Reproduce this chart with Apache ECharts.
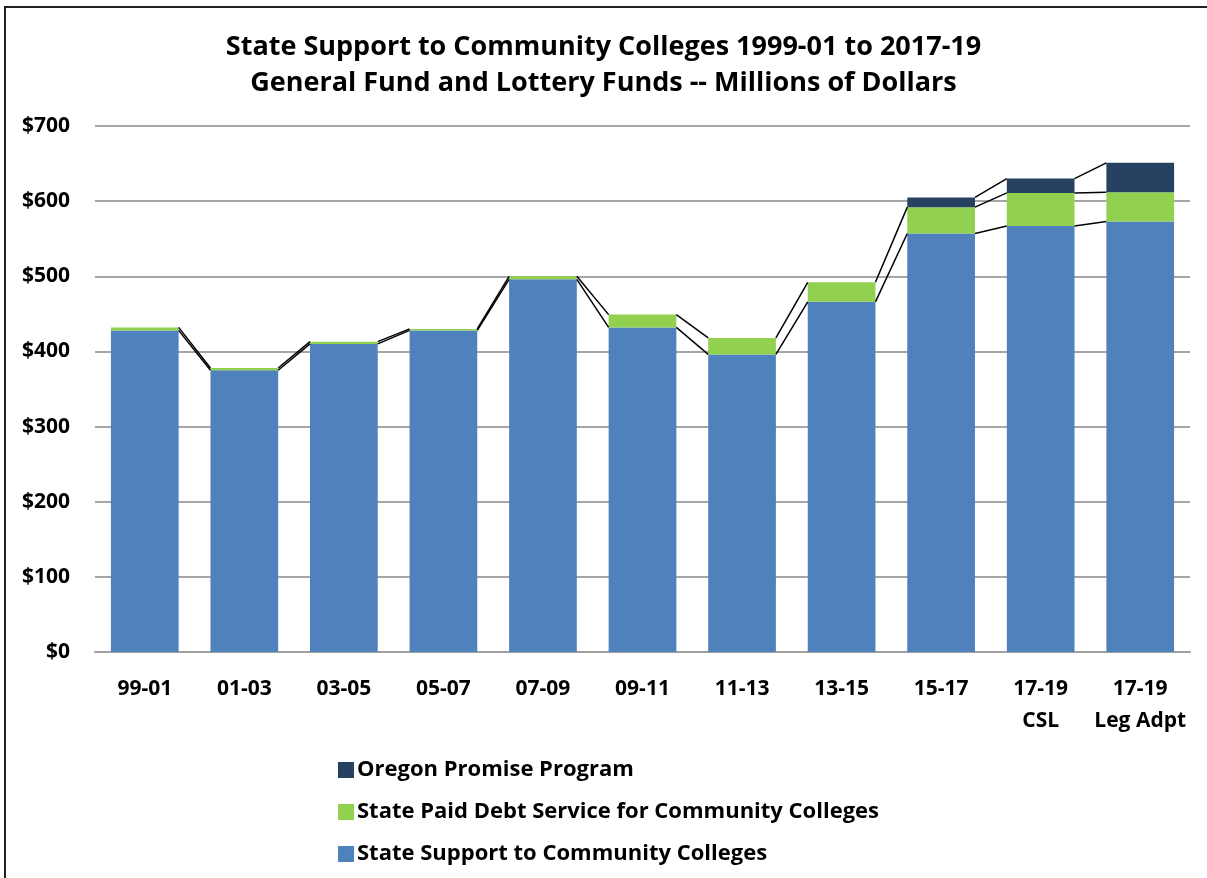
<!DOCTYPE html>
<html>
<head>
<meta charset="utf-8">
<script src="https://cdn.jsdelivr.net/npm/echarts@6/dist/echarts.min.js"></script>
<style>
  html, body { margin: 0; padding: 0; background: #fff; }
  #chart { width: 1207px; height: 878px; }
</style>
</head>
<body>
<div id="chart"></div>
<script>
// biennium labels
const categories = ['99-01', '01-03', '03-05', '05-07', '07-09', '09-11', '11-13', '13-15', '15-17', '17-19\nCSL', '17-19\nLeg Adpt'];
// millions of dollars
const stateSupport = [428, 375, 410, 428, 496, 432, 396, 466, 557, 567, 573];
const debtService = [4, 3, 3, 2, 4, 17, 22, 26, 35, 44, 39];
const oregonPromise = [null, null, null, null, null, null, null, null, 13, 19, 39];
const yTicks = [0, 100, 200, 300, 400, 500, 600, 700];

const BLUE = '#4f81bd', GREEN = '#92d050', NAVY = '#264162';
const FONT = 'Open Sans';
const BAR_RATIO = 0.68;

// stacked tops of each segment, used for the connecting series lines
const stacks = [stateSupport, debtService, oregonPromise];
const lineData = [];
stacks.forEach(function (arr, s) {
  for (let i = 0; i < categories.length - 1; i++) {
    if (arr[i] == null || arr[i + 1] == null) continue;
    let a = 0, b = 0;
    for (let k = 0; k <= s; k++) {
      a += stacks[k][i] || 0;
      b += stacks[k][i + 1] || 0;
    }
    lineData.push([i, a, b]);
  }
});

const myChart = echarts.init(document.getElementById('chart'));

const option = {
  backgroundColor: '#fff',
  animation: false,
  textStyle: { fontFamily: FONT },
  title: {
    text: 'State Support to Community Colleges 1999-01 to 2017-19\nGeneral Fund and Lottery Funds -- Millions of Dollars',
    left: 'center',
    top: 24,
    textStyle: { fontSize: 27, fontWeight: 'bold', color: '#000', lineHeight: 36, fontFamily: FONT }
  },
  graphic: [{
    type: 'rect',
    shape: { x: 5, y: 7, width: 1220, height: 900 },
    style: { fill: 'none', stroke: '#222', lineWidth: 2 },
    silent: true
  }],
  legend: {
    orient: 'vertical',
    left: 333,
    top: 751,
    itemWidth: 16,
    itemHeight: 16,
    itemGap: 14,
    icon: 'rect',
    data: ['Oregon Promise Program', 'State Paid Debt Service for Community Colleges', 'State Support to Community Colleges'],
    textStyle: { fontSize: 22, fontWeight: 'bold', color: '#000', fontFamily: FONT, lineHeight: 28, padding: [0, 0, 0, -2] }
  },
  grid: { left: 95, right: 17, top: 126, bottom: 226 },
  xAxis: {
    type: 'category',
    data: categories,
    axisTick: { show: false },
    axisLine: { lineStyle: { color: '#a0a0a0', width: 2 } },
    axisLabel: { interval: 0, fontSize: 21, fontWeight: 'bold', color: '#000', margin: 21, lineHeight: 32, fontFamily: FONT }
  },
  yAxis: {
    type: 'value',
    min: yTicks[0],
    max: yTicks[yTicks.length - 1],
    interval: 100,
    axisLine: { show: false },
    axisTick: { show: false },
    splitLine: { lineStyle: { color: '#a6a6a6', width: 2 } },
    axisLabel: {
      fontSize: 21, fontWeight: 'bold', color: '#000', margin: 25, fontFamily: FONT,
      formatter: function (v) { return '$' + v; }
    }
  },
  series: [
    {
      name: 'State Support to Community Colleges',
      type: 'bar', stack: 'total', barWidth: '68%',
      itemStyle: { color: BLUE },
      data: stateSupport
    },
    {
      name: 'State Paid Debt Service for Community Colleges',
      type: 'bar', stack: 'total', barWidth: '68%',
      itemStyle: { color: GREEN },
      data: debtService
    },
    {
      name: 'Oregon Promise Program',
      type: 'bar', stack: 'total', barWidth: '68%',
      itemStyle: { color: NAVY },
      data: oregonPromise
    },
    {
      // Excel style series lines between bar tops
      type: 'custom',
      silent: true,
      z: 5,
      data: lineData,
      renderItem: function (params, api) {
        const i = api.value(0);
        const half = api.size([1, 0])[0] * BAR_RATIO / 2;
        const p1 = api.coord([i, api.value(1)]);
        const p2 = api.coord([i + 1, api.value(2)]);
        return {
          type: 'line',
          shape: { x1: p1[0] + half, y1: p1[1], x2: p2[0] - half, y2: p2[1] },
          style: { stroke: '#000', lineWidth: 1.5 }
        };
      }
    }
  ]
};

myChart.setOption(option);
</script>
</body>
</html>
